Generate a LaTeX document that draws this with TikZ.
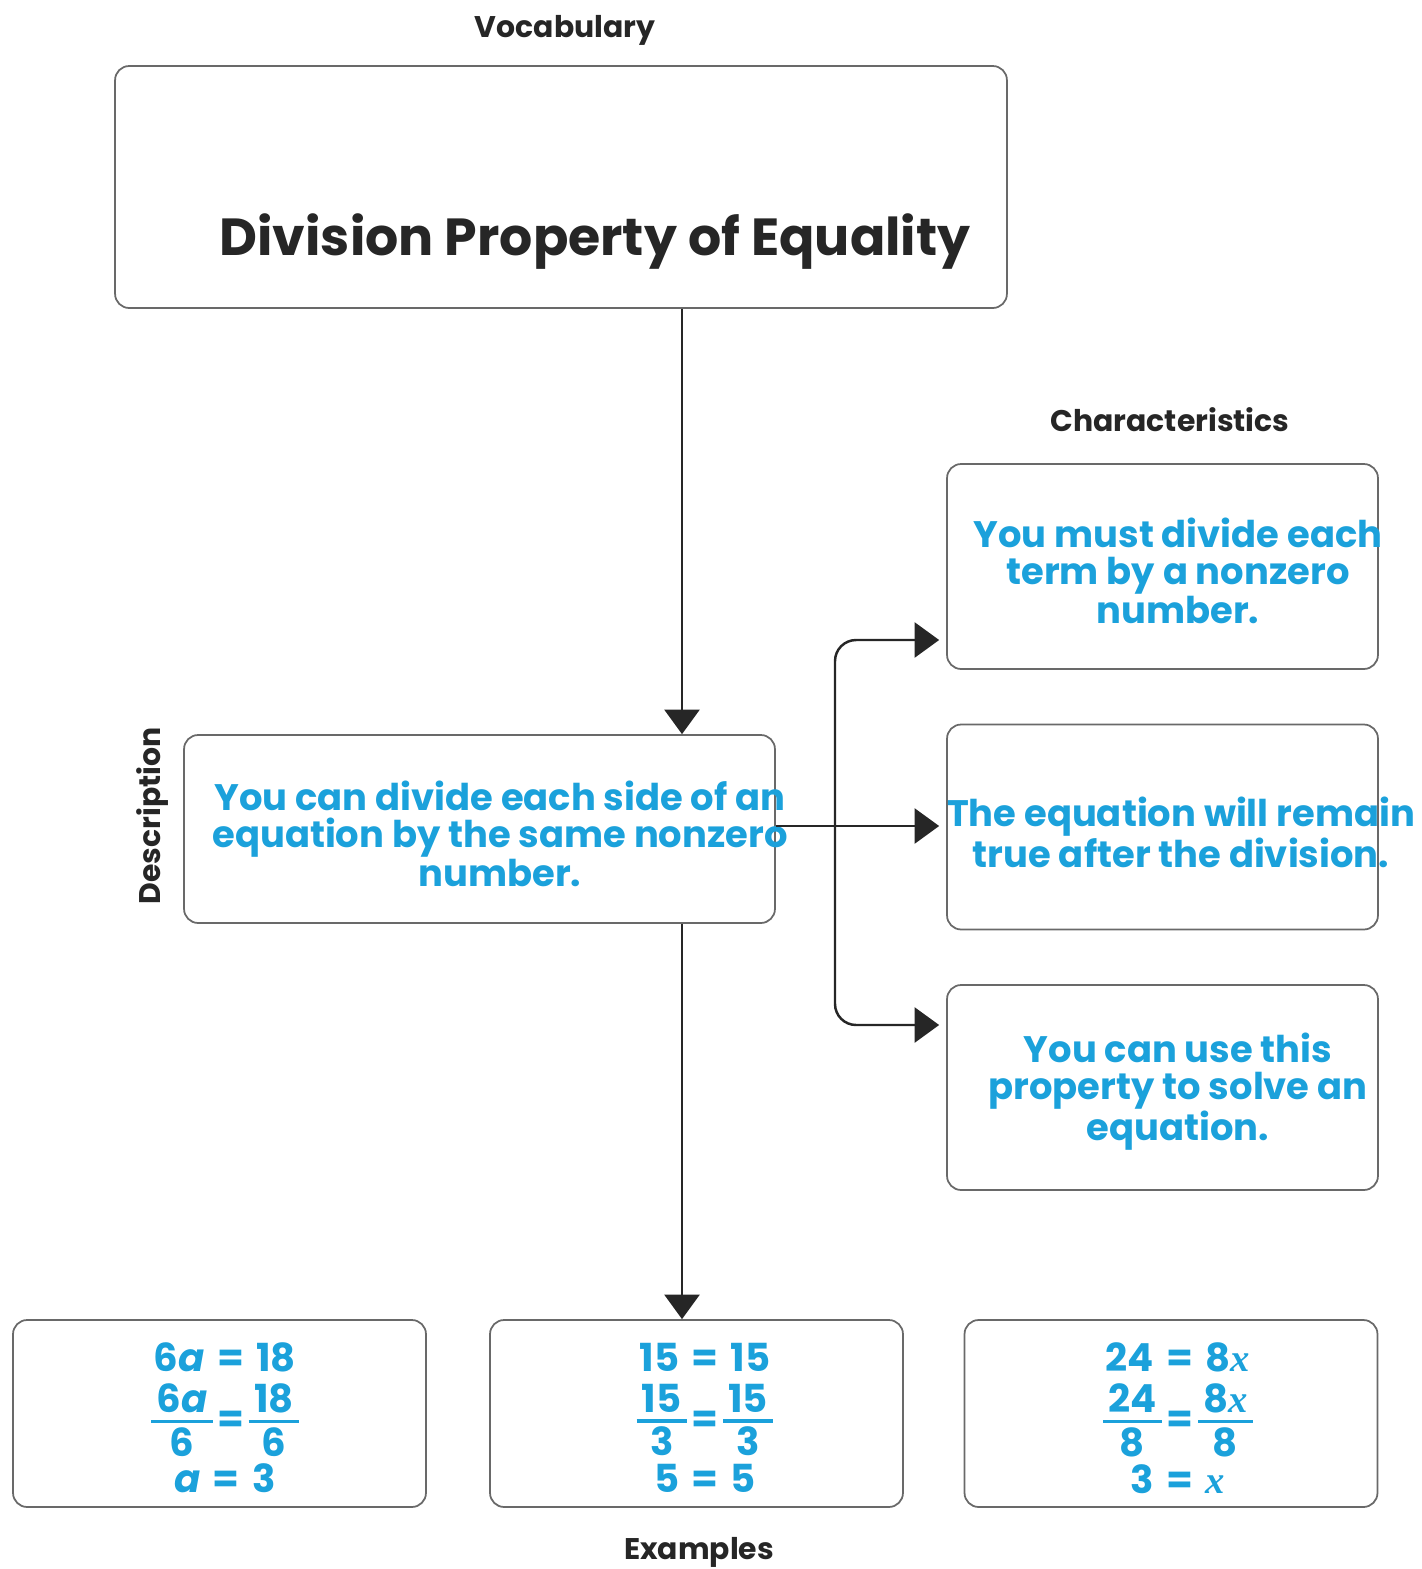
\documentclass[tikz,border=0pt]{standalone}
\usepackage{fontspec}
\setmainfont{Poppins}
\newfontfamily\varfont{Liberation Serif}
\usetikzlibrary{arrows.meta}
\definecolor{termblue}{RGB}{27,161,219}
\definecolor{edgegray}{RGB}{105,105,105}
\setlength{\arrayrulewidth}{1.8pt}
\newcommand{\vx}{{\varfont\itshape x}}
\newcommand{\va}{\textit{a}}
\newcommand{\eq}{\hspace{0.32em}=\hspace{0.32em}}
\newcommand{\feq}{\hspace{0.12em}=\hspace{0.12em}}
\newcommand{\exfrac}[2]{\smash{\raisebox{-13.3pt}{\begin{tabular}[b]{@{\hspace{3pt}}c@{\hspace{3pt}}}#1\\[-3pt]\hline\rule{0pt}{19pt}#2\end{tabular}}}}

\begin{document}
\begin{tikzpicture}[x=0.02cm,y=-0.02cm]
        \tikzstyle{every node}=[font=\bfseries]
        \tikzstyle{heading}=[font=\fontsize{17}{20}\selectfont\bfseries,text=black!85]
        \tikzstyle{frame}=[draw=edgegray,line width=1pt,rounded corners=8pt,inner sep=0pt]
        \tikzstyle{note}=[text=termblue,align=center,inner sep=0pt,font=\fontsize{21}{21}\selectfont\bfseries]
        \tikzstyle{sum}=[text=termblue,align=center,inner sep=0pt,font=\fontsize{22}{24}\selectfont\bfseries]
        \tikzstyle{normally}=[line width=1.4pt,draw=black!85,-{Triangle[length=14pt,width=20pt]}]
        \useasboundingbox (0,0) rectangle (1421,1569);
        % headings
        \node[heading] (vlabel) at (565,30) {Vocabulary};
        \node[heading] (clabel) at (1170,420) {Characteristics};
        \node[heading] (elabel) at (699,1552) {Examples};
        \node[heading,rotate=90] (dlabel) at (153,816) {Description};
        % boxes
        \node[frame,minimum width=17.84cm,minimum height=4.84cm] (vocab) at (561,187) {};
        \node[frame,minimum width=11.82cm,minimum height=3.76cm] (desc) at (479.5,829) {};
        \node[frame,minimum width=8.62cm,minimum height=4.1cm] (c1) at (1162.5,566.5) {};
        \node[frame,minimum width=8.62cm,minimum height=4.1cm] (c2) at (1162.5,827) {};
        \node[frame,minimum width=8.62cm,minimum height=4.1cm] (c3) at (1162.5,1087.5) {};
        \node[frame,minimum width=8.26cm,minimum height=3.74cm] (exA) at (219.5,1413.5) {};
        \node[frame,minimum width=8.26cm,minimum height=3.74cm] (exB) at (696.5,1413.5) {};
        \node[frame,minimum width=8.26cm,minimum height=3.74cm] (exC) at (1171,1413.5) {};
        % texts
        \node[font=\fontsize{29.7}{34}\selectfont\bfseries,text=black!85] (title) at (595,242) {Division Property of Equality};
        \node[note] (tdesc) at (500,834) {You can divide each side of an\\equation by the same nonzero\\number.};
        \node[note] (tc1) at (1178,571) {You must divide each\\term by a nonzero\\number.};
        \node[note] (tc2) at (1181,832) {The equation will remain\\true after the division.};
        \node[note] (tc3) at (1178,1092) {You can use this\\property to solve an\\equation.};
        \node[sum] (tA) at (225,1418) {6\va\eq18\\[10.8pt]\exfrac{6\va}{6}\feq\exfrac{18}{6}\\[10.3pt]\va\eq3};
        \node[sum] (tB) at (705,1418) {15\eq15\\[10.8pt]\exfrac{15}{3}\feq\exfrac{15}{3}\\[10.3pt]5\eq5};
        \node[sum] (tC) at (1178,1418) {24\eq8\vx\\[10.8pt]\exfrac{24}{8}\feq\exfrac{8\vx}{8}\\[10.3pt]3\eq\vx};
        % connectors
        \coordinate (spine) at (682,0);
        \coordinate (fork) at (835,0);
        \coordinate (upper) at (0,640);
        \coordinate (mid) at (0,826);
        \coordinate (lower) at (0,1025);
        \draw[normally] (vocab.south -| spine) -- (desc.north -| spine);
        \draw[normally] (desc.south -| spine) -- (exB.north -| spine);
        \draw[normally,shorten >=4pt] (desc.east |- mid) -- (c2.west |- mid);
        \draw[normally,shorten >=4pt,rounded corners=12pt] (fork |- mid) |- (c1.west |- upper);
        \draw[normally,shorten >=4pt,rounded corners=12pt] (fork |- mid) |- (c3.west |- lower);
      \end{tikzpicture}
\end{document}
